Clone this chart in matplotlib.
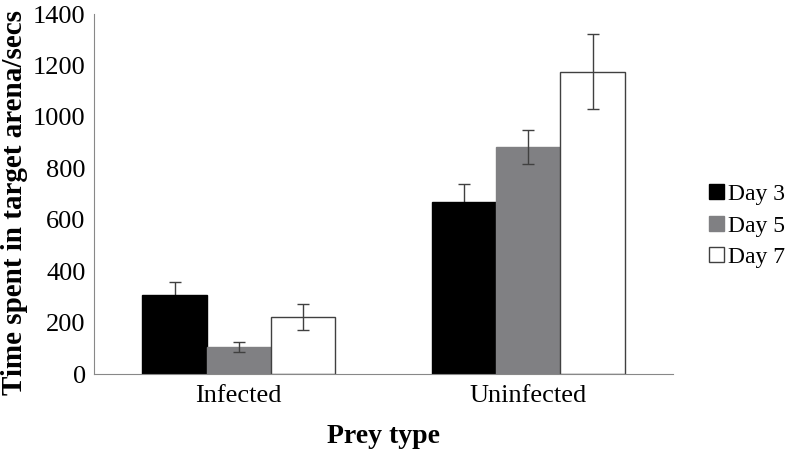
import numpy as np
import matplotlib.pyplot as plt

plt.rcParams['font.family'] = ['Liberation Serif', 'DejaVu Serif']

categories = ['Infected', 'Uninfected']
days = ['Day 3', 'Day 5', 'Day 7']
day3 = [307, 668]
day5 = [106, 882]
day7 = [222, 1175]
err3 = [50, 72]
err5 = [19, 67]
err7 = [52, 146]

colors = ['#000000', '#808083', '#ffffff']
edges = ['#000000', '#808083', '#404040']

fig = plt.figure(figsize=(7.9, 4.55), dpi=100)
ax = fig.add_axes([0.119, 0.178, 0.733, 0.791])

x = np.arange(len(categories))
w = 0.222
for i, (vals, errs) in enumerate(zip([day3, day5, day7], [err3, err5, err7])):
    ax.bar(x + (i - 1) * w, vals, w, color=colors[i], edgecolor=edges[i],
           linewidth=1.0, label=days[i], zorder=2)
    # black bar hides the lower half of its error bar
    ax.errorbar(x + (i - 1) * w, vals, yerr=errs, fmt='none', ecolor='#404040',
                elinewidth=1.0, capsize=4, capthick=1.0,
                zorder=1.5 if i == 0 else 3)

ax.set_xlim(-0.5, 1.5)
ax.set_ylim(0, 1400)
ax.set_yticks(range(0, 1401, 200))
ax.set_xticks(x)
ax.set_xticklabels(categories, fontsize=19)
ax.tick_params(axis='y', labelsize=19, length=0, pad=6)
ax.tick_params(axis='x', length=0, pad=8)
for s in ['top', 'right']:
    ax.spines[s].set_visible(False)
for s in ['left', 'bottom']:
    ax.spines[s].set_color('#888888')

fig.text(0.018, 0.556, 'Time spent in target arena/secs', rotation=90, fontsize=21,
         fontweight='bold', ha='center', va='center')
ax.set_xlabel('Prey type', fontsize=20, fontweight='bold', labelpad=12)

fig.legend(loc='center left', bbox_to_anchor=(0.898, 0.503), frameon=False, fontsize=17,
           borderpad=0, borderaxespad=0,
           handlelength=0.6, handleheight=0.6, handletextpad=0.2, labelspacing=0.45)

fig.savefig('out.png', dpi=100)
